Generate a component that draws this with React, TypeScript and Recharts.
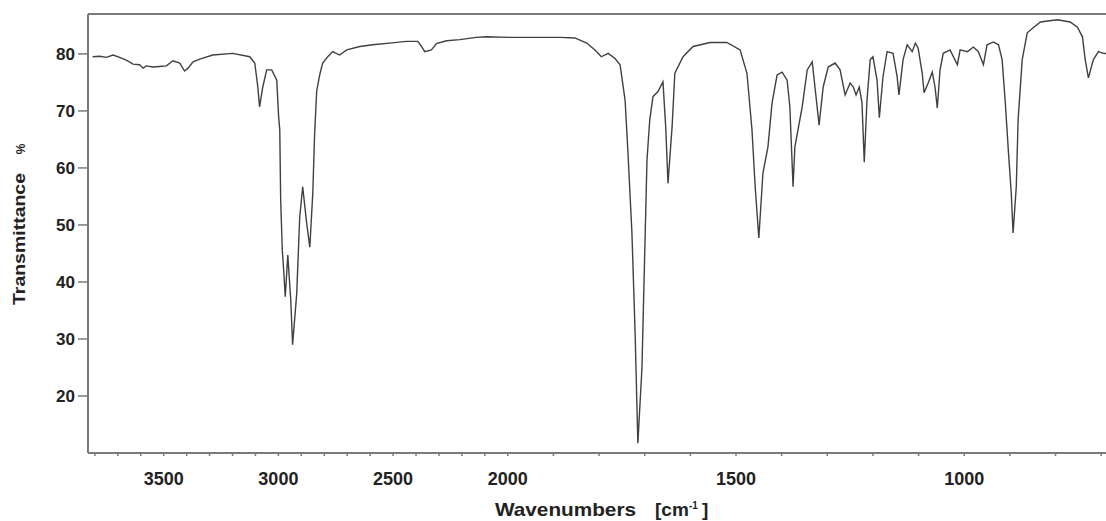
import React from 'react';
import { LineChart, Line, XAxis, YAxis } from 'recharts';

// IR spectrum: wavenumber (cm^-1) and transmittance (%)
const wavenumbers = [
  3810, 3779, 3750, 3721, 3692, 3663, 3634, 3605, 3590, 3576, 3547, 3518, 3488, 3460, 3430, 3409, 3394, 3372, 3343,
  3286, 3199, 3125, 3103, 3090, 3082, 3068, 3051, 3029, 3007, 2999, 2994, 2990, 2983, 2977, 2970, 2959, 2946, 2938,
  2920, 2907, 2894, 2877, 2863, 2850, 2842, 2833, 2820, 2807, 2785, 2763, 2733, 2702, 2645, 2589, 2515, 2442, 2392,
  2376, 2362, 2333, 2311, 2267, 2209, 2137, 2093, 1996, 1945, 1886, 1853, 1827, 1809, 1795, 1780, 1765, 1754, 1743,
  1737, 1728, 1721, 1715, 1706, 1700, 1695, 1689, 1682, 1671, 1660, 1654, 1649, 1640, 1634, 1616, 1594, 1557, 1520,
  1491, 1476, 1465, 1458, 1450, 1441, 1430, 1421, 1410, 1399, 1388, 1382, 1375, 1371, 1355, 1344, 1333, 1327, 1318,
  1309, 1298, 1283, 1272, 1261, 1250, 1243, 1237, 1230, 1224, 1219, 1213, 1206, 1200, 1191, 1186, 1178, 1169, 1156,
  1147, 1143, 1134, 1125, 1114, 1107, 1101, 1092, 1088, 1079, 1070, 1064, 1059, 1053, 1046, 1031, 1015, 1009, 993,
  980, 969, 958, 950, 936, 925, 917, 910, 903, 897, 893, 886, 882, 873, 862, 849, 833, 796, 768, 752, 741, 735, 728,
  717, 706, 695, 680, 660,
];
const transmittance = [
  79.5, 79.6, 79.4, 79.8, 79.4, 78.9, 78.2, 78.1, 77.5, 77.9, 77.7, 77.8, 77.9, 78.8, 78.4, 77.0, 77.5, 78.6, 79.1,
  79.8, 80.1, 79.5, 78.4, 74.3, 70.7, 74.2, 77.2, 77.2, 75.4, 69.0, 66.7, 54.4, 45.6, 42.1, 37.4, 44.7, 36.8, 29.0,
  38.0, 51.4, 56.7, 50.4, 46.1, 55.6, 66.0, 73.5, 76.3, 78.4, 79.5, 80.4, 79.8, 80.7, 81.3, 81.6, 81.9, 82.2, 82.2,
  81.3, 80.4, 80.7, 81.8, 82.3, 82.5, 82.9, 83.0, 82.9, 82.9, 82.9, 82.8, 81.9, 80.7, 79.5, 80.1, 79.2, 78.1, 71.9,
  63.2, 48.6, 31.0, 11.7, 25.0, 45.0, 61.4, 68.4, 72.5, 73.4, 75.1, 67.2, 57.3, 67.2, 76.6, 79.5, 81.3, 82.0, 82.0,
  80.7, 76.6, 66.7, 56.7, 47.7, 59.1, 63.7, 71.4, 76.3, 76.8, 75.4, 70.7, 56.7, 63.7, 70.7, 77.2, 78.6, 74.2, 67.5,
  74.2, 77.7, 78.4, 77.2, 72.8, 74.9, 74.2, 72.8, 74.2, 71.4, 61.0, 71.9, 79.0, 79.5, 75.4, 68.8, 76.0, 80.4, 80.1,
  76.0, 72.8, 79.0, 81.6, 80.4, 81.9, 81.0, 76.6, 73.2, 74.9, 76.8, 74.2, 70.5, 77.2, 80.1, 80.7, 78.1, 80.7, 80.4,
  81.2, 80.4, 78.1, 81.6, 82.1, 81.6, 79.0, 71.4, 62.6, 55.6, 48.6, 56.7, 68.4, 79.0, 83.7, 84.6, 85.6, 86.0, 85.6, 84.7, 83.0, 79.0, 75.8,
  79.0, 80.4, 80.1, 80.0, 80.0,
];

const xTickValues = [3800, 3700, 3600, 3500, 3400, 3300, 3200, 3100, 3000, 2900, 2800, 2700, 2600, 2500, 2400, 2300, 2200, 2100, 2000,
  1900, 1800, 1700, 1600, 1500, 1400, 1300, 1200, 1100, 1000, 900, 800, 700];
const xLabeled = [3500, 3000, 2500, 2000, 1500, 1000];
const yTicks = [20, 30, 40, 50, 60, 70, 80];

// axis geometry: spectrum scale doubles below 2000 cm^-1
const W_START = 3830;
const BREAK = 2000;
const W_END = 650;
const EXPAND = 1.99;
const toU = (w: number) => (w >= BREAK ? W_START - w : W_START - BREAK + (BREAK - w) * EXPAND);
const fromU = (u: number) => (u <= W_START - BREAK ? W_START - u : BREAK - (u - (W_START - BREAK)) / EXPAND);
const U_MAX = toU(W_END);

const data = wavenumbers.map((w, i) => ({ u: toU(w), t: transmittance[i] }));

const FONT = '"Liberation Sans", Arial, Helvetica, sans-serif';
const AXIS = '#7a7a7a';
const INK = '#222';

const XTick = (props: any) => {
  const { x, y, payload } = props;
  const w = Math.round(fromU(payload.value));
  if (!xLabeled.includes(w)) return <g />;
  return (
    <text x={x} y={y} dy={27} textAnchor="middle" fill={INK} fontSize={18} fontWeight={700} fontFamily={FONT}>
      {w}
    </text>
  );
};

export default function App() {
  return (
    <div style={{ position: 'fixed', left: 0, top: 0, width: 1106, height: 521, overflow: 'hidden', background: '#fff' }}>
      <LineChart width={1140} height={521} data={data} margin={{ top: 10, right: 16, bottom: 38, left: 28 }}>
        <XAxis
          dataKey="u"
          type="number"
          domain={[0, U_MAX]}
          ticks={xTickValues.map(toU)}
          interval={0}
          allowDataOverflow
          height={30}
          tickSize={3}
          tick={<XTick />}
          axisLine={{ stroke: AXIS, strokeWidth: 2 }}
          tickLine={{ stroke: AXIS, strokeWidth: 1.5 }}
        />
        <XAxis
          xAxisId="top"
          orientation="top"
          dataKey="u"
          type="number"
          domain={[0, U_MAX]}
          height={4}
          tick={false}
          tickLine={false}
          axisLine={{ stroke: AXIS, strokeWidth: 2 }}
        />
        <YAxis
          type="number"
          domain={[10, 87]}
          ticks={yTicks}
          interval={0}
          allowDataOverflow
          width={60}
          tickSize={10}
          tickMargin={3}
          axisLine={{ stroke: AXIS, strokeWidth: 2 }}
          tickLine={{ stroke: AXIS, strokeWidth: 1.5 }}
          tick={{ fill: INK, fontSize: 17, fontWeight: 700, fontFamily: FONT }}
        />
        <Line
          type="linear"
          dataKey="t"
          stroke="#404040"
          strokeWidth={1.4}
          dot={false}
          activeDot={false}
          isAnimationActive={false}
        />
      </LineChart>
      <svg width={1106} height={521} style={{ position: 'absolute', left: 0, top: 0, pointerEvents: 'none' }}>
        <g transform="translate(25,239) rotate(-90)">
          <text x={0} y={0} textAnchor="middle" fill={INK} fontSize={16} fontWeight={700} fontFamily={FONT}
            textLength={132} lengthAdjust="spacingAndGlyphs">Transmittance</text>
        </g>
        <g transform="translate(25,149) rotate(-90)">
          <text x={0} y={0} textAnchor="middle" fill={INK} fontSize={12} fontWeight={700} fontFamily={FONT}>%</text>
        </g>
        <text x={495} y={516} fill={INK} fontSize={19} fontWeight={700} fontFamily={FONT}
          textLength={141} lengthAdjust="spacingAndGlyphs">Wavenumbers</text>
        <text fill={INK} fontWeight={700} fontFamily={FONT} fontSize={19} y={516}>
          <tspan x={655}>[cm</tspan>
          <tspan x={689} dy={-7} fontSize={10}>-1</tspan>
          <tspan x={702} dy={7}>]</tspan>
        </text>
      </svg>
    </div>
  );
}
